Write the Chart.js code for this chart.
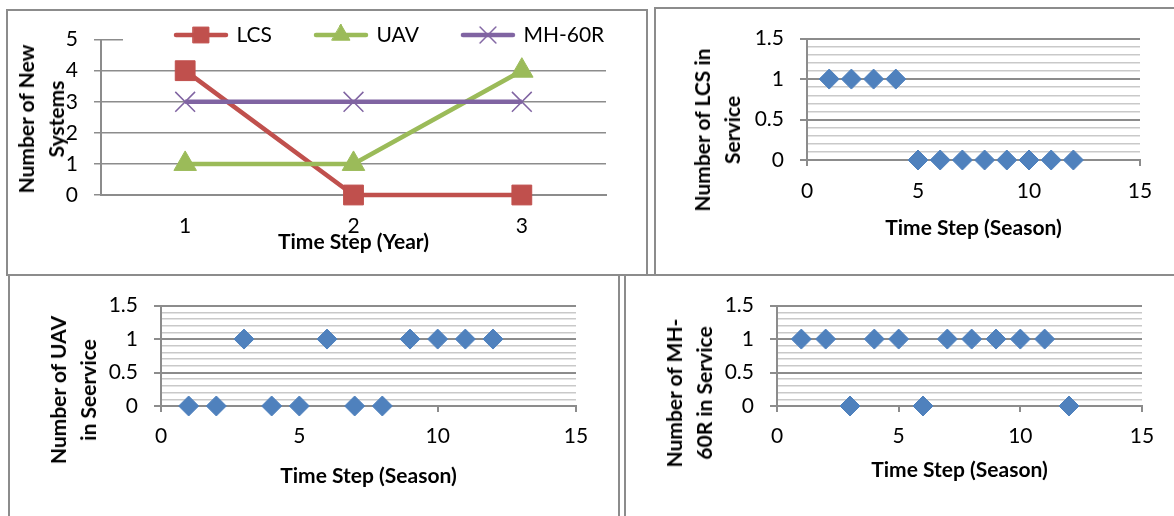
<!DOCTYPE html>
<html>
<head>
<meta charset="utf-8">
<script src="https://cdn.jsdelivr.net/npm/chart.js@4.4.1/dist/chart.umd.min.js"></script>
<style>
html, body { margin: 0; padding: 0; background: #fff; }
body { width: 1174px; height: 516px; position: relative; overflow: hidden; font-family: Lato, sans-serif; }
.frame { position: absolute; box-sizing: border-box; border: 2.5px solid #8c8c8c; }
canvas { position: absolute; }
.ytitle { position: absolute; transform: translate(-50%, -50%) rotate(-90deg); font-weight: bold; font-size: 21px;
  line-height: 30px; text-align: center; white-space: nowrap; color: #000; }
</style>
</head>
<body>

<div class="frame" style="left:6px;top:9px;width:642px;height:267px"></div>
<div class="frame" style="left:654px;top:7px;width:540px;height:269px"></div>
<div class="frame" style="left:8px;top:274px;width:612px;height:260px"></div>
<div class="frame" style="left:624px;top:274px;width:570px;height:260px"></div>

<canvas id="newSystems" width="638" height="262" style="left:8px;top:11px"></canvas>
<canvas id="lcsChart" width="517" height="263" style="left:657px;top:10px"></canvas>
<canvas id="uavChart" width="607" height="239" style="left:11px;top:277px"></canvas>
<canvas id="mhChart" width="547" height="239" style="left:627px;top:277px"></canvas>

<div class="ytitle" style="left:41px;top:119px">Number of New<br>Systems</div>
<div class="ytitle" style="left:717px;top:130px">Number of LCS in<br>Service</div>
<div class="ytitle" style="left:73px;top:390px">Number of UAV<br>in Seervice</div>
<div class="ytitle" style="left:689px;top:393px">Number of MH-<br>60R in Service</div>

<script>
// new systems per year
const years = ['1', '2', '3'];
const lcsNew = [4, 0, 0];
const uavNew = [1, 1, 4];
const mhNew = [3, 3, 3];

// systems in service per season
const seasons = [1, 2, 3, 4, 5, 6, 7, 8, 9, 10, 11, 12];
const lcsService = [1, 1, 1, 1, 0, 0, 0, 0, 0, 0, 0, 0];
const uavService = [0, 0, 1, 0, 0, 1, 0, 0, 1, 1, 1, 1];
const mhService = [1, 1, 0, 1, 1, 0, 1, 1, 1, 1, 1, 0];

const RED = '#C0504D', GREEN = '#9BBB59', PURPLE = '#8064A2', BLUE = '#4F81BD';
const GRID = '#8c8c8c', MINOR = '#c9c9c9';

Chart.defaults.font.family = 'Lato, sans-serif';
Chart.defaults.font.size = 21;
Chart.defaults.color = '#000';
Chart.defaults.animation = false;
Chart.defaults.responsive = false;


/* legend sample: line with marker, like excel */

function legendSample(color, style, radius, bw){
  const c = document.createElement('canvas');
  c.width = 56; c.height = 24;
  const g = c.getContext('2d');
  g.strokeStyle = color; g.lineWidth = 4.5; g.lineCap = 'round';
  g.beginPath(); g.moveTo(3, 12); g.lineTo(53, 12); g.stroke();
  g.fillStyle = color; g.lineWidth = bw;
  Chart.helpers.drawPoint(g, {pointStyle: style, radius: radius, borderWidth: bw, rotation: 0}, 28, 12);
  return c;
}

// legend sits on the top gridline, with a white box behind it
const legendPlace = {
  id: 'legendPlace',
  afterLayout(chart){
    const o = chart.options.plugins.legendPlace;
    if(!o || !o.x) return;
    const lg = chart.legend;
    const p = lg.options.labels.padding;
    const fs = lg.options.labels.font.size || 21;
    lg.left = o.x - p;
    lg.right = lg.left + lg.width;
    lg.top = o.y - p - fs / 2;
    lg.bottom = lg.top + 120;
  },
  beforeDatasetsDraw(chart){
    const o = chart.options.plugins.legendPlace;
    if(!o || !o.x) return;
    const lg = chart.legend, ctx = chart.ctx;
    ctx.save();
    ctx.fillStyle = '#fff';
    ctx.fillRect(o.x - o.maskLeft, o.y - 9, chart.chartArea.right - o.x + o.maskLeft + 2, 18);
    ctx.restore();
    lg.draw();
  }
};
Chart.register(legendPlace);

function series(label, data, color, style, radius, bw, order){
  return {
    label: label, data: data, order: order, clip: false,
    borderColor: color, backgroundColor: color, borderWidth: 4.5,
    pointStyle: style, pointRadius: radius, pointBorderWidth: bw,
    pointBackgroundColor: color, pointBorderColor: color,
    sample: legendSample(color, style, radius * 0.8, bw)
  };
}


/* CHART 1 : new systems */

new Chart(document.getElementById('newSystems'), {
  type: 'line',
  data: {
    labels: years,
    datasets: [
      series('LCS', lcsNew, RED, 'rect', 14, 1, 2),
      series('UAV', uavNew, GREEN, 'triangle', 13, 1, 1),
      series('MH-60R', mhNew, PURPLE, 'crossRot', 14, 1.5, 0)
    ]
  },
  options: {
    layout: {padding: {top: 19, right: 40, left: 0, bottom: 0}},
    plugins: {
      tooltip: {enabled: false},
      legendPlace: {x: 168, y: 24, maskLeft: 53},
      legend: {
        position: 'top', align: 'start', maxHeight: 1,
        labels: {
          usePointStyle: true, pointStyleWidth: 50, padding: 44,
          font: {size: 21}, color: '#000',
          generateLabels: ch => ch.data.datasets.map((d, i) => ({
            text: d.label, pointStyle: d.sample, rotation: 0,
            fillStyle: d.borderColor, strokeStyle: d.borderColor, lineWidth: 0,
            hidden: false, datasetIndex: i, fontColor: '#000'
          }))
        }
      }
    },
    scales: {
      x: {
        offset: true,
        grid: {display: false, drawTicks: false, offset: true},
        border: {color: GRID, width: 2},
        ticks: {padding: 19},
        title: {display: true, text: 'Time Step (Year)', font: {weight: 'bold', size: 21}, padding: {top: 0, bottom: 18}},
        afterFit: s => { s.height = 78; }
      },
      y: {
        min: 0, max: 5,
        ticks: {stepSize: 1, padding: 16},
        grid: {color: GRID, lineWidth: 1.5, tickLength: 7},
        border: {color: GRID, width: 2},
        afterFit: s => { s.width = 93; }
      }
    }
  }
});


/* CHARTS 2-4 : in service */

const isMajor = v => Math.abs(v * 2 - Math.round(v * 2)) < 1e-6;

function serviceChart(id, values, box){

  new Chart(document.getElementById(id), {
    type: 'scatter',
    data: {
      datasets: [{
        data: seasons.map((s, i) => ({x: s, y: values[i]})),
        pointStyle: 'rectRot', pointRadius: 10, pointBorderWidth: 1,
        backgroundColor: BLUE, borderColor: BLUE, clip: false
      }]
    },
    options: {
      layout: {padding: {top: box.top, right: box.right, left: 0, bottom: 0}},
      plugins: {legend: {display: false}, tooltip: {enabled: false}},
      scales: {
        x: {
          type: 'linear', min: 0, max: 15,
          ticks: {stepSize: 5, padding: box.xTick},
          grid: {drawOnChartArea: false, color: GRID, lineWidth: 2, tickLength: 6},
          border: {color: GRID, width: 2},
          title: {display: true, text: 'Time Step (Season)', font: {weight: 'bold', size: 21}, padding: {top: 0, bottom: box.xTitle}},
          afterFit: s => { s.height = box.xh; }
        },
        y: {
          min: 0, max: 1.5,
          ticks: {stepSize: 0.1, autoSkip: false, padding: 16, callback: v => isMajor(v) ? String(v) : ''},
          grid: {
            color: c => isMajor(c.tick.value) ? GRID : MINOR,
            lineWidth: c => isMajor(c.tick.value) ? 2 : 1.5,
            tickColor: c => isMajor(c.tick.value) ? GRID : 'rgba(0,0,0,0)',
            tickLength: 7
          },
          border: {color: GRID, width: 2},
          afterFit: s => { s.width = box.yw; }
        }
      }
    }
  });

}

serviceChart('lcsChart', lcsService, {top: 26, right: 34, yw: 150, xh: 113, xTick: 13, xTitle: 32});
serviceChart('uavChart', uavService, {top: 27, right: 42, yw: 150, xh: 110, xTick: 12, xTitle: 27});
serviceChart('mhChart', mhService, {top: 27, right: 32, yw: 150, xh: 110, xTick: 12, xTitle: 33});
</script>
</body>
</html>
